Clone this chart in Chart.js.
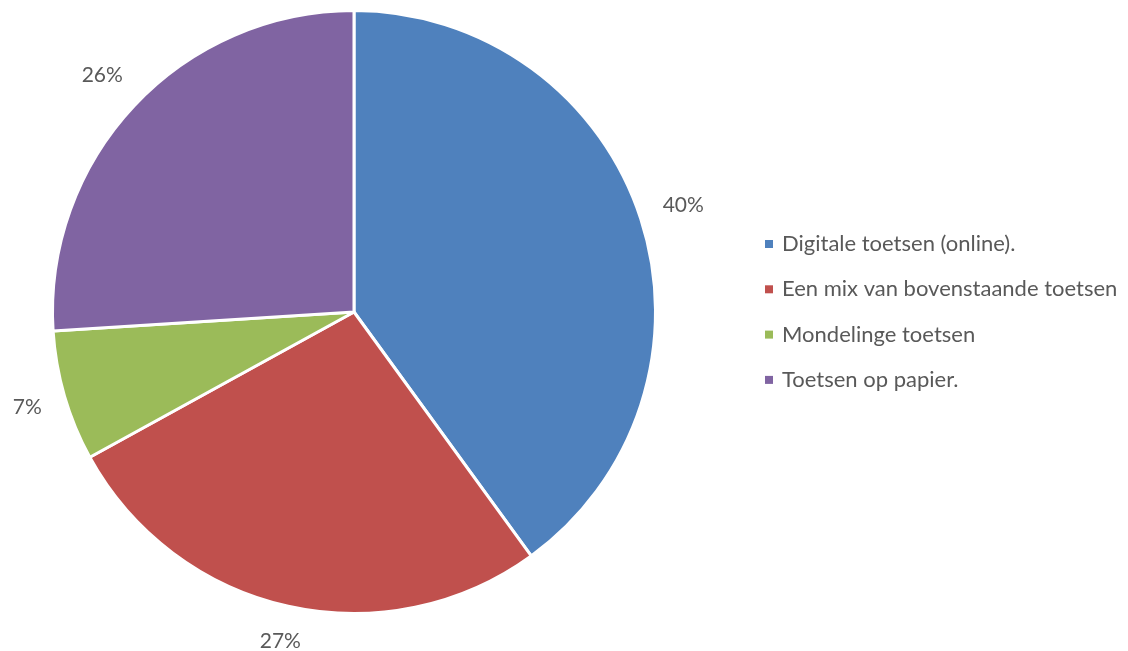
<!DOCTYPE html>
<html>
<head>
<meta charset="utf-8">
<script src="https://cdn.jsdelivr.net/npm/chart.js"></script>
<style>
  html, body { margin: 0; padding: 0; background: #ffffff; }
  #wrap { width: 1128px; height: 651px; }
</style>
</head>
<body>
<div id="wrap"><canvas id="pieChart" width="1128" height="651"></canvas></div>
<script>
const categories = [
  "Digitale toetsen (online).",
  "Een mix van bovenstaande toetsen",
  "Mondelinge toetsen",
  "Toetsen op papier."
];
const percentages = [40, 27, 7, 26];
const colors = ["#4F81BD", "#C0504D", "#9BBB59", "#8064A2"];

const FONT = "Lato, 'Open Sans', sans-serif";
const TEXT_COLOR = "#595959";

// percentage labels outside each slice; the gap is measured from the
// rim to the nearest edge of the text box
const outsideLabels = {
  id: "outsideLabels",
  afterDatasetsDraw(chart) {
    const ctx = chart.ctx;
    const meta = chart.getDatasetMeta(0);
    const gap = 22;
    ctx.save();
    ctx.font = "21px " + FONT;
    ctx.fillStyle = TEXT_COLOR;
    ctx.textAlign = "center";
    ctx.textBaseline = "middle";
    meta.data.forEach((arc, i) => {
      const text = percentages[i] + "%";
      const halfW = ctx.measureText(text).width / 2;
      const halfH = 10;
      const mid = (arc.startAngle + arc.endAngle) / 2;
      const dx = Math.cos(mid);
      const dy = Math.sin(mid);
      const r = arc.outerRadius + gap + Math.abs(dx) * halfW + Math.abs(dy) * halfH;
      ctx.fillText(text, arc.x + dx * r, arc.y + dy * r);
    });
    ctx.restore();
  }
};

// legend on the right, square markers
const sideLegend = {
  id: "sideLegend",
  afterDraw(chart) {
    const ctx = chart.ctx;
    const left = 765;
    const top = 244;
    const step = 45.3;
    ctx.save();
    ctx.font = "22px " + FONT;
    ctx.textAlign = "left";
    ctx.textBaseline = "middle";
    categories.forEach((name, i) => {
      const y = top + i * step;
      ctx.fillStyle = colors[i];
      ctx.fillRect(left, y - 4, 8, 8);
      ctx.fillStyle = TEXT_COLOR;
      ctx.fillText(name, left + 17, y);
    });
    ctx.restore();
  }
};

new Chart(document.getElementById("pieChart"), {
  type: "pie",
  data: {
    labels: categories,
    datasets: [{
      data: percentages,
      backgroundColor: colors,
      borderColor: "#ffffff",
      borderWidth: 3,
      hoverOffset: 0
    }]
  },
  options: {
    responsive: false,
    animation: false,
    layout: {
      padding: { left: 51, right: 471, top: 9, bottom: 36 }
    },
    plugins: {
      legend: { display: false },
      tooltip: { enabled: false }
    }
  },
  plugins: [outsideLabels, sideLegend]
});
</script>
</body>
</html>
